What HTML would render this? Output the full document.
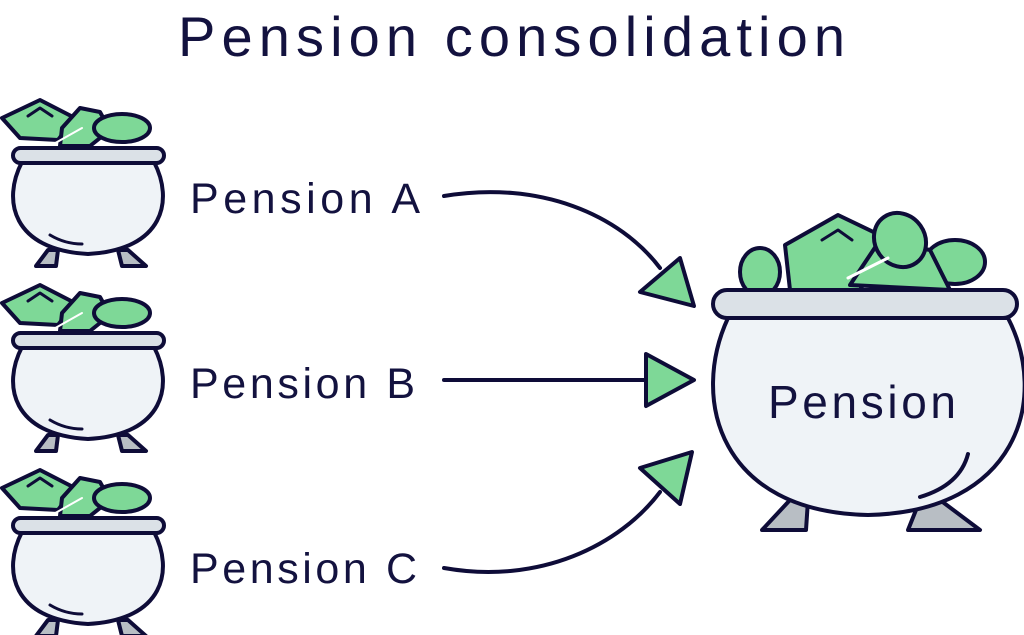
<!DOCTYPE html>
<html><head><meta charset="utf-8"><style>
html,body{margin:0;padding:0;background:#fff;width:1024px;height:635px;overflow:hidden}
svg{display:block}
text{font-family:"Liberation Sans",sans-serif;fill:#13123f}
</style></head><body>
<svg width="1024" height="635" viewBox="0 0 1024 635" xmlns="http://www.w3.org/2000/svg">
<defs>
<g id="pot" stroke="#0e0c38" stroke-width="4" stroke-linejoin="round" stroke-linecap="round">
  <polygon points="2,118 40,100 75,118 58,140 20,138" fill="#7ed897"/>
  <polyline points="28,116 40,108 52,116" fill="none" stroke-width="3"/>
  <polygon points="62,128 80,108 100,112 110,130 90,146 60,146" fill="#7ed897"/>
  <ellipse cx="122" cy="128" rx="28" ry="14" fill="#7ed897"/>
  <line x1="50" y1="146" x2="82" y2="128" stroke="#fff" stroke-width="2"/>
  <polygon points="48,250 58,250 56,266 36,266" fill="#b8bec4"/>
  <polygon points="118,250 128,250 146,266 122,266" fill="#b8bec4"/>
  <path d="M22,162 C2,200 12,250 88,254 C164,250 174,200 154,162 Z" fill="#eff3f7"/>
  <path d="M50,235 Q65,244 82,244" fill="none" stroke-width="3"/>
  <rect x="13" y="148" width="151" height="15" rx="7.5" fill="#dbe1e7"/>
</g>
</defs>

<text x="178" y="56" font-size="56" textLength="667" lengthAdjust="spacing">Pension consolidation</text>

<use href="#pot"/>
<use href="#pot" transform="translate(0,185)"/>
<use href="#pot" transform="translate(0,370)"/>

<text x="190" y="213" font-size="43" textLength="230" lengthAdjust="spacing">Pension A</text>
<text x="190" y="398" font-size="43" textLength="225" lengthAdjust="spacing">Pension B</text>
<text x="190" y="583" font-size="43" textLength="227" lengthAdjust="spacing">Pension C</text>

<g stroke="#0e0c38" stroke-width="4" fill="none" stroke-linecap="round">
  <path d="M444,196 C540,180 620,215 660,268"/>
  <line x1="444" y1="380" x2="650" y2="380"/>
  <path d="M444,568 C540,585 620,545 660,492"/>
</g>
<g stroke="#0e0c38" stroke-width="4" fill="#7ed897" stroke-linejoin="round">
  <polygon points="640,292 694,306 680,258"/>
  <polygon points="646,354 694,380 646,406"/>
  <polygon points="640,468 692,452 680,504"/>
</g>

<g stroke="#0e0c38" stroke-width="4" stroke-linejoin="round" stroke-linecap="round">
  <ellipse cx="760" cy="272" rx="20" ry="24" fill="#7ed897"/>
  <ellipse cx="955" cy="262" rx="30" ry="22" fill="#7ed897"/>
  <polygon points="785,245 838,215 890,240 860,290 790,290" fill="#7ed897"/>
  <polyline points="822,240 838,230 852,240" fill="none" stroke-width="3"/>
  <polygon points="850,285 880,240 930,250 950,290" fill="#7ed897"/>
  <ellipse cx="900" cy="240" rx="25" ry="28" fill="#7ed897" transform="rotate(-35 900 240)"/>
  <line x1="848" y1="278" x2="888" y2="258" stroke="#fff" stroke-width="3"/>
  <polygon points="790,500 808,500 806,530 762,530" fill="#b8bec4"/>
  <polygon points="920,500 940,500 980,530 908,530" fill="#b8bec4"/>
  <path d="M728,318 C690,400 720,512 868,515 C1016,512 1050,400 1008,318 Z" fill="#eff3f7"/>
  <path d="M968,454 Q960,485 920,497" fill="none"/>
  <rect x="713" y="290" width="304" height="28" rx="14" fill="#dbe1e7"/>
</g>
<text x="768" y="418" font-size="46" textLength="188" lengthAdjust="spacing">Pension</text>
</svg>
</body></html>
